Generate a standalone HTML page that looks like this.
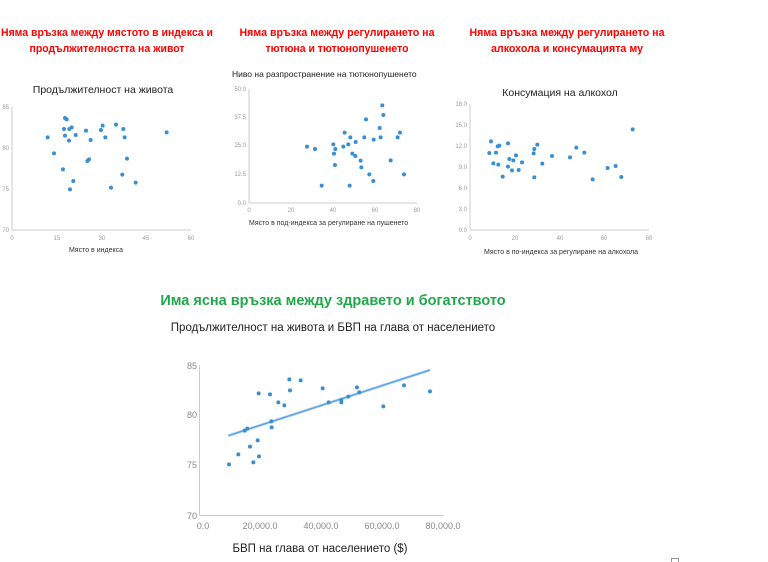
<!DOCTYPE html>
<html><head><meta charset="utf-8"><style>
body{margin:0;background:#fff;}
svg{display:block;font-family:"Liberation Sans","DejaVu Sans",sans-serif;}
</style></head><body>
<svg width="768" height="562" viewBox="0 0 768 562" xmlns="http://www.w3.org/2000/svg">
<g fill="#ff0000" font-weight="bold" font-size="11" text-anchor="middle" font-family="'Liberation Sans Narrow','Liberation Sans',sans-serif">
<text x="107" y="36" textLength="212" lengthAdjust="spacingAndGlyphs">Няма връзка между мястото в индекса и</text>
<text x="107" y="52" textLength="155" lengthAdjust="spacingAndGlyphs">продължителността на живот</text>
<text x="337" y="36" textLength="195" lengthAdjust="spacingAndGlyphs">Няма връзка между регулирането на</text>
<text x="337" y="52" textLength="143" lengthAdjust="spacingAndGlyphs">тютюна и тютюнопушенето</text>
<text x="567" y="36" textLength="195" lengthAdjust="spacingAndGlyphs">Няма връзка между регулирането на</text>
<text x="567" y="52" textLength="152" lengthAdjust="spacingAndGlyphs">алкохола и консумацията му</text>
</g>

<!-- Chart 1 -->
<text x="103" y="93" font-size="10.5" text-anchor="middle" fill="#222">Продължителност на живота</text>
<g stroke="#ccc" stroke-width="1"><line x1="12" y1="107" x2="12" y2="230"/><line x1="12" y1="230" x2="191" y2="230"/></g>
<g font-size="6" fill="#999" text-anchor="end"><text x="9" y="109">85</text><text x="9" y="150">80</text><text x="9" y="191">75</text><text x="9" y="232">70</text></g>
<g font-size="6" fill="#999" text-anchor="middle"><text x="12" y="240">0</text><text x="57" y="240">15</text><text x="102" y="240">30</text><text x="146" y="240">45</text><text x="191" y="240">60</text></g>
<text x="96" y="252" font-size="7" text-anchor="middle" fill="#333">Място в индекса</text>
<g transform="translate(0,80) scale(0.3333)" fill="#3a8fd0">
<circle cx="143" cy="172" r="6"/><circle cx="162" cy="220" r="6"/><circle cx="189" cy="268" r="6"/><circle cx="192" cy="147" r="6"/><circle cx="195" cy="167" r="6"/><circle cx="195" cy="114" r="6"/><circle cx="200" cy="118" r="6"/><circle cx="207" cy="182" r="6"/><circle cx="208" cy="147" r="6"/><circle cx="215" cy="142" r="6"/><circle cx="210" cy="328" r="6"/><circle cx="220" cy="303" r="6"/><circle cx="227" cy="165" r="6"/><circle cx="258" cy="152" r="6"/><circle cx="262" cy="243" r="6"/><circle cx="267" cy="238" r="6"/><circle cx="272" cy="180" r="6"/><circle cx="303" cy="150" r="6"/><circle cx="308" cy="137" r="6"/><circle cx="316" cy="172" r="6"/><circle cx="333" cy="323" r="6"/><circle cx="348" cy="134" r="6"/><circle cx="370" cy="147" r="6"/><circle cx="374" cy="172" r="6"/><circle cx="367" cy="284" r="6"/><circle cx="381" cy="236" r="6"/><circle cx="407" cy="308" r="6"/><circle cx="500" cy="157" r="6"/>
</g>

<!-- Chart 2 -->
<text x="232" y="77" font-size="8.5" fill="#222">Ниво на разпространение на тютюнопушенето</text>
<g stroke="#ccc"><line x1="249" y1="89" x2="249" y2="203"/><line x1="249" y1="203" x2="417" y2="203"/></g>
<g font-size="6" fill="#999" text-anchor="end"><text x="246" y="91">50.0</text><text x="246" y="119">37.5</text><text x="246" y="147">25.0</text><text x="246" y="176">12.5</text><text x="246" y="205">0.0</text></g>
<g font-size="6" fill="#999" text-anchor="middle"><text x="249" y="212">0</text><text x="291" y="212">20</text><text x="333" y="212">40</text><text x="375" y="212">60</text><text x="417" y="212">80</text></g>
<text x="249" y="225" font-size="7" fill="#333">Място в под-индекса за регулиране на пушенето</text>
<g transform="translate(220,60) scale(0.3333)" fill="#3a8fd0">
<circle cx="261" cy="260" r="6"/><circle cx="285" cy="267" r="6"/><circle cx="305" cy="377" r="6"/><circle cx="340" cy="253" r="6"/><circle cx="342" cy="281" r="6"/><circle cx="346" cy="267" r="6"/><circle cx="345" cy="315" r="6"/><circle cx="370" cy="260" r="6"/><circle cx="374" cy="218" r="6"/><circle cx="385" cy="253" r="6"/><circle cx="391" cy="232" r="6"/><circle cx="397" cy="281" r="6"/><circle cx="406" cy="288" r="6"/><circle cx="407" cy="246" r="6"/><circle cx="389" cy="377" r="6"/><circle cx="422" cy="302" r="6"/><circle cx="424" cy="322" r="6"/><circle cx="433" cy="232" r="6"/><circle cx="438" cy="178" r="6"/><circle cx="448" cy="343" r="6"/><circle cx="461" cy="239" r="6"/><circle cx="460" cy="363" r="6"/><circle cx="479" cy="204" r="6"/><circle cx="482" cy="232" r="6"/><circle cx="487" cy="136" r="6"/><circle cx="490" cy="165" r="6"/><circle cx="512" cy="301" r="6"/><circle cx="533" cy="232" r="6"/><circle cx="540" cy="218" r="6"/><circle cx="552" cy="343" r="6"/>
</g>

<!-- Chart 3 -->
<text x="560" y="96" font-size="10.5" text-anchor="middle" fill="#222">Консумация на алкохол</text>
<g stroke="#ccc"><line x1="470" y1="104" x2="470" y2="230"/><line x1="470" y1="230" x2="649" y2="230"/></g>
<g font-size="6" fill="#999" text-anchor="end"><text x="467" y="106">18.0</text><text x="467" y="127">15.0</text><text x="467" y="148">12.0</text><text x="467" y="169">9.0</text><text x="467" y="190">6.0</text><text x="467" y="211">3.0</text><text x="467" y="232">0.0</text></g>
<g font-size="6" fill="#999" text-anchor="middle"><text x="470" y="240">0</text><text x="515" y="240">20</text><text x="560" y="240">40</text><text x="604" y="240">60</text><text x="649" y="240">80</text></g>
<text x="484" y="254" font-size="7" fill="#333">Място в по-индекса за регулиране на алкохола</text>
<g transform="translate(440,80) scale(0.3333)" fill="#3a8fd0">
<circle cx="148" cy="219" r="6"/><circle cx="153" cy="184" r="6"/><circle cx="160" cy="250" r="6"/><circle cx="168" cy="218" r="6"/><circle cx="173" cy="199" r="6"/><circle cx="178" cy="197" r="6"/><circle cx="175" cy="254" r="6"/><circle cx="188" cy="290" r="6"/><circle cx="204" cy="190" r="6"/><circle cx="204" cy="260" r="6"/><circle cx="208" cy="237" r="6"/><circle cx="216" cy="271" r="6"/><circle cx="220" cy="241" r="6"/><circle cx="228" cy="226" r="6"/><circle cx="236" cy="270" r="6"/><circle cx="246" cy="247" r="6"/><circle cx="281" cy="220" r="6"/><circle cx="283" cy="207" r="6"/><circle cx="283" cy="292" r="6"/><circle cx="292" cy="194" r="6"/><circle cx="307" cy="251" r="6"/><circle cx="336" cy="228" r="6"/><circle cx="390" cy="232" r="6"/><circle cx="409" cy="203" r="6"/><circle cx="433" cy="218" r="6"/><circle cx="458" cy="298" r="6"/><circle cx="503" cy="264" r="6"/><circle cx="527" cy="258" r="6"/><circle cx="544" cy="291" r="6"/><circle cx="578" cy="148" r="6"/>
</g>

<!-- Chart 4 -->
<text x="333" y="305" font-size="14.5" font-weight="bold" fill="#1fa84a" text-anchor="middle">Има ясна връзка между здравето и богатството</text>
<text x="333" y="331" font-size="11.5" fill="#222" text-anchor="middle">Продължителност на живота и БВП на глава от населението</text>
<g stroke="#ccc"><line x1="199.5" y1="365" x2="199.5" y2="515.5"/><line x1="199.5" y1="515.5" x2="444" y2="515.5"/></g>
<g font-size="9" fill="#888" text-anchor="end"><text x="197" y="369">85</text><text x="197" y="418">80</text><text x="197" y="468">75</text><text x="197" y="519">70</text></g>
<g font-size="9" fill="#888" text-anchor="middle"><text x="203" y="529">0.0</text><text x="260" y="529">20,000.0</text><text x="321" y="529">40,000.0</text><text x="382" y="529">60,000.0</text><text x="443" y="529">80,000.0</text></g>
<text x="320" y="552" font-size="11.5" fill="#222" text-anchor="middle">БВП на глава от населението ($)</text>
<g transform="translate(170,350) scale(0.3333)">
<line x1="175" y1="257" x2="780" y2="60" stroke="#c9def2" stroke-width="9"/>
<line x1="175" y1="257" x2="780" y2="60" stroke="#5aa3e6" stroke-width="4.5"/>
<g fill="#3a8fd0">
<circle cx="177" cy="343" r="6"/><circle cx="205" cy="313" r="6"/><circle cx="224" cy="242" r="6"/><circle cx="232" cy="236" r="6"/><circle cx="240" cy="290" r="6"/><circle cx="250" cy="337" r="6"/><circle cx="263" cy="271" r="6"/><circle cx="266" cy="130" r="6"/><circle cx="267" cy="319" r="6"/><circle cx="300" cy="133" r="6"/><circle cx="304" cy="214" r="6"/><circle cx="305" cy="232" r="6"/><circle cx="325" cy="157" r="6"/><circle cx="343" cy="166" r="6"/><circle cx="358" cy="88" r="6"/><circle cx="360" cy="121" r="6"/><circle cx="392" cy="91" r="6"/><circle cx="458" cy="115" r="6"/><circle cx="476" cy="157" r="6"/><circle cx="514" cy="150" r="6"/><circle cx="514" cy="157" r="6"/><circle cx="535" cy="140" r="6"/><circle cx="561" cy="112" r="6"/><circle cx="568" cy="127" r="6"/><circle cx="640" cy="169" r="6"/><circle cx="702" cy="106" r="6"/><circle cx="780" cy="124" r="6"/>
</g></g>
<rect x="671.5" y="558.5" width="7" height="6" fill="none" stroke="#999"/>
</svg>
</body></html>
